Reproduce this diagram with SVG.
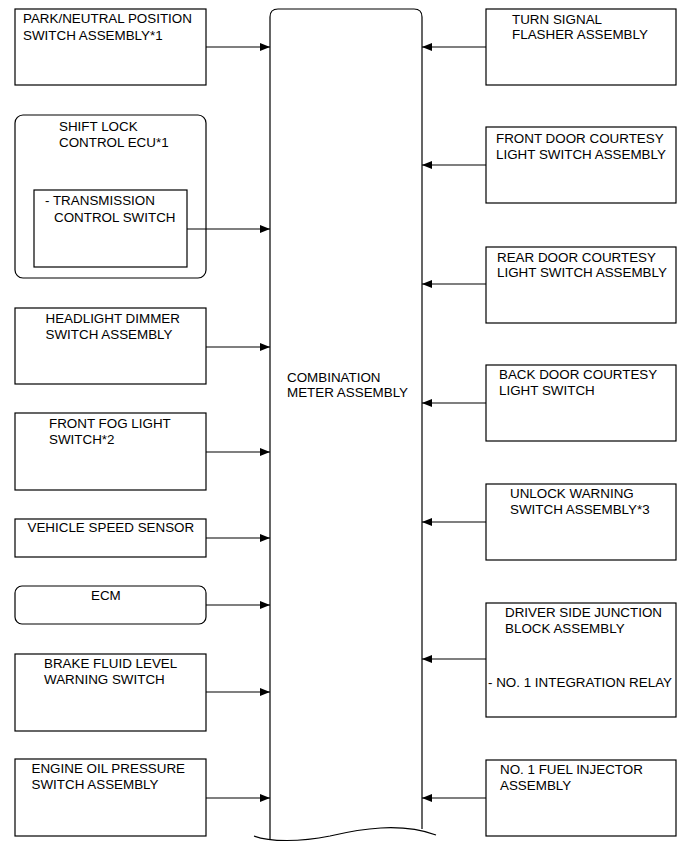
<svg xmlns="http://www.w3.org/2000/svg" width="691" height="854" viewBox="0 0 691 854">
<style>
.box{fill:#fff;stroke:#000;stroke-width:1.2}
.t{font-family:"Liberation Sans",Arial,sans-serif;font-size:13.4px;fill:#000}
.c{stroke:#000;stroke-width:1.1;fill:none;marker-end:url(#ah)}
</style>
<defs>
<marker id="ah" viewBox="0 0 10 8" refX="10" refY="4" markerWidth="10" markerHeight="8" markerUnits="userSpaceOnUse" orient="auto">
<path d="M0,0 L10,4 L0,8 Z" fill="#000"/>
</marker>
</defs>
<rect width="691" height="854" fill="#fff"/>

<g id="meter">
<path d="M270,839 L270,17 Q270,9 278,9 L414,9 Q422,9 422,17 L422,829" fill="none" stroke="#000" stroke-width="1.2"/>
<path d="M254,836 C270,842 300,842 330,836 C360,829 400,822 436,835" fill="none" stroke="#000" stroke-width="1.2"/>
<text class="t" x="287" y="382">COMBINATION</text>
<text class="t" x="287" y="397">METER ASSEMBLY</text>
</g>

<g id="park">
<rect class="box" x="15" y="9" width="191" height="76"/>
<text class="t" x="23" y="23">PARK/NEUTRAL POSITION</text>
<text class="t" x="23" y="39.5">SWITCH ASSEMBLY*1</text>
</g>

<g id="shiftlock">
<rect class="box" x="15" y="115" width="191" height="163" rx="8" ry="8"/>
<text class="t" x="59" y="131">SHIFT LOCK</text>
<text class="t" x="59" y="147">CONTROL ECU*1</text>
<rect class="box" x="34" y="190" width="153" height="77"/>
<text class="t" x="45" y="205">- TRANSMISSION</text>
<text class="t" x="54" y="221.5">CONTROL SWITCH</text>
</g>

<g id="headlight">
<rect class="box" x="15" y="308" width="191" height="76"/>
<text class="t" x="45.5" y="322.5">HEADLIGHT DIMMER</text>
<text class="t" x="45.5" y="338.5">SWITCH ASSEMBLY</text>
</g>

<g id="fog">
<rect class="box" x="15" y="413" width="191" height="77"/>
<text class="t" x="49" y="427.5">FRONT FOG LIGHT</text>
<text class="t" x="49" y="443.5">SWITCH*2</text>
</g>

<g id="speed">
<rect class="box" x="15" y="519" width="191" height="38"/>
<text class="t" x="27.5" y="532">VEHICLE SPEED SENSOR</text>
</g>

<g id="ecm">
<rect class="box" x="15" y="586" width="191" height="38" rx="7" ry="7"/>
<text class="t" x="91" y="599.5">ECM</text>
</g>

<g id="brake">
<rect class="box" x="15" y="654" width="191" height="77"/>
<text class="t" x="44" y="667.5">BRAKE FLUID LEVEL</text>
<text class="t" x="44" y="683.5">WARNING SWITCH</text>
</g>

<g id="oil">
<rect class="box" x="15" y="759" width="191" height="77"/>
<text class="t" x="31.5" y="773">ENGINE OIL PRESSURE</text>
<text class="t" x="31.5" y="789">SWITCH ASSEMBLY</text>
</g>

<g id="turn">
<rect class="box" x="486" y="9" width="190" height="76"/>
<text class="t" x="512" y="23.5">TURN SIGNAL</text>
<text class="t" x="512" y="39">FLASHER ASSEMBLY</text>
</g>

<g id="frontdoor">
<rect class="box" x="486" y="127" width="190" height="76"/>
<text class="t" x="496" y="142.5">FRONT DOOR COURTESY</text>
<text class="t" x="496" y="158.5">LIGHT SWITCH ASSEMBLY</text>
</g>

<g id="reardoor">
<rect class="box" x="486" y="247" width="190" height="76"/>
<text class="t" x="497" y="261.5">REAR DOOR COURTESY</text>
<text class="t" x="497" y="277">LIGHT SWITCH ASSEMBLY</text>
</g>

<g id="backdoor">
<rect class="box" x="486" y="365" width="190" height="76"/>
<text class="t" x="499" y="378.5">BACK DOOR COURTESY</text>
<text class="t" x="499" y="395">LIGHT SWITCH</text>
</g>

<g id="unlock">
<rect class="box" x="486" y="484" width="190" height="76"/>
<text class="t" x="510" y="497.5">UNLOCK WARNING</text>
<text class="t" x="510" y="514">SWITCH ASSEMBLY*3</text>
</g>

<g id="driverjb">
<rect class="box" x="486" y="603" width="190" height="114"/>
<text class="t" x="505" y="616.5">DRIVER SIDE JUNCTION</text>
<text class="t" x="505" y="633">BLOCK ASSEMBLY</text>
<text class="t" x="488" y="686.5">- NO. 1 INTEGRATION RELAY</text>
</g>

<g id="injector">
<rect class="box" x="486" y="760" width="190" height="76"/>
<text class="t" x="500" y="774">NO. 1 FUEL INJECTOR</text>
<text class="t" x="500" y="790">ASSEMBLY</text>
</g>

<g id="connectors">
<path class="c" d="M206,47 H270"/>
<path class="c" d="M187,229 H270"/>
<path class="c" d="M206,347 H270"/>
<path class="c" d="M206,452 H270"/>
<path class="c" d="M206,538 H270"/>
<path class="c" d="M206,605 H270"/>
<path class="c" d="M206,692 H270"/>
<path class="c" d="M206,798 H270"/>
<path class="c" d="M486,47 H422"/>
<path class="c" d="M486,165 H422"/>
<path class="c" d="M486,284 H422"/>
<path class="c" d="M486,403 H422"/>
<path class="c" d="M486,522 H422"/>
<path class="c" d="M486,659 H422"/>
<path class="c" d="M486,798 H422"/>
</g>
</svg>
